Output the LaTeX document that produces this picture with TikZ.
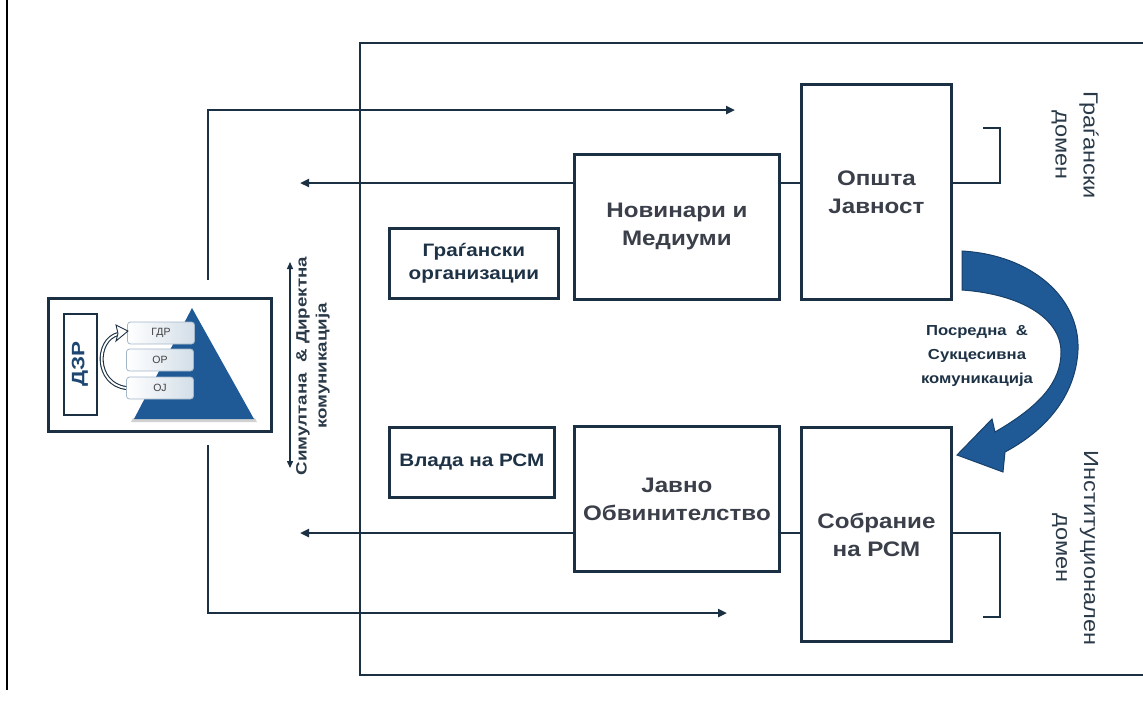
\documentclass[tikz,border=0pt]{standalone}
\usepackage{fontspec}
\setmainfont{Liberation Sans}
\newfontfamily\wfont[FakeStretch=1.15]{Liberation Sans}
\newfontfamily\vfont[FakeStretch=1.25]{Liberation Sans}
\usetikzlibrary{arrows.meta}
\definecolor{navy}{HTML}{1B3042}
\definecolor{boxtext}{HTML}{3A3F4A}
\definecolor{darktext}{HTML}{1E3246}
\definecolor{blueA}{HTML}{1F5A97}
\definecolor{blueB}{HTML}{17406A}
\definecolor{dzrblue}{HTML}{1D4670}
\definecolor{smline}{HTML}{A3B6C8}
\definecolor{smfill}{HTML}{D3DEE8}
\definecolor{sidetext}{HTML}{2A3A48}
\begin{document}
\begin{tikzpicture}[x=1pt,y=-1pt,
  bx/.style={draw=navy,line width=2.8pt,fill=white,inner sep=0pt,align=center},
  bigtxt/.style={font=\wfont\bfseries\fontsize{21}{28}\selectfont,text=boxtext},
  midtxt/.style={font=\wfont\bfseries\fontsize{18}{23}\selectfont,text=darktext},
  conn/.style={draw=navy,line width=2.6pt},
  arr/.style={conn,-{Triangle[length=9pt,width=8pt]}},
  sm/.style={draw=smline,line width=0.8pt,rounded corners=3pt,left color=white,right color=smfill,
    minimum width=67pt,minimum height=22pt,inner sep=0pt,font=\fontsize{10.5}{12}\selectfont,text=black!75},
  sidelbl/.style={font=\wfont\fontsize{20.5}{28}\selectfont,text=sidetext,align=center,rotate=-90}
  ]
\useasboundingbox (0,0) rectangle (1143,702);

% left margin line
\draw[black,line width=2pt] (7,0) -- (7,690);

% large frame
\draw[navy,line width=2pt] (1143,43) -- (360,43) -- (360,675) -- (1143,675);

% coordinates
\coordinate (yA) at (0,183);
\coordinate (yB) at (0,533);
\coordinate (aL1) at (300,183);
\coordinate (aL2) at (300,533);
\coordinate (fT0) at (208,280);
\coordinate (fT1) at (735,110);
\coordinate (fB0) at (208,445);
\coordinate (fB1) at (727,613);
\coordinate (brT) at (1000,128);
\coordinate (brTe) at (983,128);
\coordinate (brB) at (1000,617);
\coordinate (brBe) at (983,617);

% boxes
\node[bx,bigtxt,minimum width=205pt,minimum height=145pt,anchor=north west] (nov) at (573,153) {Новинари и\\Медиуми};
\node[bx,bigtxt,minimum width=150pt,minimum height=215pt,anchor=north west] (op) at (800,83) {Општа\\Јавност};
\node[bx,midtxt,minimum width=169pt,minimum height=70pt,anchor=north west] (go) at (388,227) {Граѓански\\организации};
\node[bx,midtxt,minimum width=165pt,minimum height=70pt,anchor=north west] (vl) at (388,426) {Влада на РСМ};
\node[bx,bigtxt,minimum width=205pt,minimum height=145pt,anchor=north west] (jo) at (573,425) {Јавно\\Обвинителство};
\node[bx,bigtxt,minimum width=150pt,minimum height=214pt,anchor=north west] (sob) at (800,426) {Собрание\\на РСМ};

% connectors
\draw[conn] (nov.east |- yA) -- (op.west |- yA);
\draw[conn] (jo.east |- yB) -- (sob.west |- yB);
\draw[arr] (nov.west |- yA) -- (aL1);
\draw[arr] (jo.west |- yB) -- (aL2);
\draw[arr] (fT0) |- (fT1);
\draw[arr] (fB0) |- (fB1);
\draw[conn] (op.east |- yA) -| (brT) -- (brTe);
\draw[conn] (sob.east |- yB) -| (brB) -- (brBe);

% DZR group
\node[draw=navy,line width=2.8pt,minimum width=223pt,minimum height=133pt,anchor=north west,inner sep=0pt] (dzr) at (47,297) {};
\node[draw=navy,line width=2pt,rotate=90,minimum width=101pt,minimum height=33pt,inner sep=0pt,
  font=\vfont\bfseries\fontsize{18}{20}\selectfont,text=dzrblue] (dzrin) at (80,364) {ДЗР};
\fill[black!18] (133,418) -- (255,418) -- (257,422) -- (131,422) -- cycle;
\fill[blueA] (192,308) -- (254,419) -- (134,419) -- cycle;
\node[sm] (gdr) at (161,333) {ГДР};
\node[sm] (orp) at (160,360) {ОР};
\node[sm] (oj) at (160,388) {ОЈ};
\draw[navy,line width=4pt] (oj.west) .. controls (95,384) and (95,340) .. (118,334);
\draw[white,line width=1.8pt] (oj.west) .. controls (95,384) and (95,340) .. (118,334);
\draw[navy,line width=0.9pt,fill=white] (128,331) -- (116,325) -- (118,333.5) -- (116,341) -- cycle;

% vertical double arrow and label
\coordinate (vT) at (290,262);
\coordinate (vB) at (290,468);
\draw[navy,line width=1.4pt,{Triangle[length=7pt,width=6pt]}-{Triangle[length=7pt,width=6pt]}] (vT) -- (vB);
\node[rotate=90,align=center,font=\vfont\bfseries\fontsize{15}{20}\selectfont,text=sidetext] (sim) at (313,366) {Симултана \ \& Директна\\комуникација};

% curved blue arrow
\fill[blueA,draw=blueB,line width=1pt]
 (962,251) .. controls (1032,255) and (1080,298) .. (1078,350)
 .. controls (1076,392) and (1050,428) .. (1005,452)
 -- (1003,472) -- (957,455) -- (992,419) -- (995,432)
 .. controls (1040,406) and (1061,382) .. (1061,352)
 .. controls (1061,318) and (1020,294) .. (962,290) -- cycle;
\node[align=center,font=\wfont\bfseries\fontsize{14.5}{24}\selectfont,text=darktext] (pos) at (977,356) {Посредна \ \&\\Сукцесивна\\комуникација};

% side labels
\node[sidelbl] (gd) at (1075,145) {Граѓански\\домен};
\node[sidelbl] (id) at (1075,548) {Институционален\\домен};
\end{tikzpicture}
\end{document}
